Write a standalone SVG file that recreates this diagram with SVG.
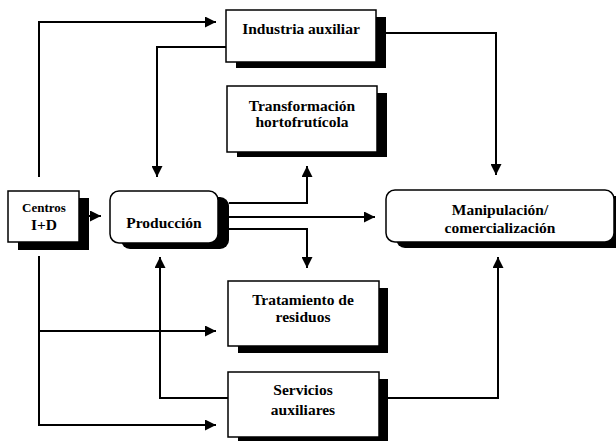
<svg xmlns="http://www.w3.org/2000/svg" width="616" height="441" viewBox="0 0 616 441">
<defs>
<marker id="ah" markerWidth="11" markerHeight="11" refX="11" refY="5.5" orient="auto" markerUnits="userSpaceOnUse">
<path d="M0,0 L11,5.5 L0,11 Z" fill="#000"/>
</marker>
<style>
.box{fill:#fff;stroke:#000;stroke-width:1.5}
.sh{fill:#000}
.t{font-family:"Liberation Serif","Times New Roman",serif;font-weight:bold;font-size:15.5px;text-anchor:middle;fill:#000}
.s{font-size:13px}
.c{fill:none;stroke:#000;stroke-width:2}
</style>
</defs>
<rect width="616" height="441" fill="#fff"/>
<g id="connectors">
<polyline class="c" points="39,177 39,22 216,22" marker-end="url(#ah)"/>
<polyline class="c" points="226,47 157,47 157,177" marker-end="url(#ah)"/>
<polyline class="c" points="386,33 496,33 496,175" marker-end="url(#ah)"/>
<polyline class="c" points="229,203 307,203 307,166" marker-end="url(#ah)"/>
<polyline class="c" points="229,217 375,217" marker-end="url(#ah)"/>
<polyline class="c" points="229,229 307,229 307,268" marker-end="url(#ah)"/>
<polyline class="c" points="89,216 101,216" marker-end="url(#ah)"/>
<polyline class="c" points="39,256 39,425 216,425" marker-end="url(#ah)"/>
<polyline class="c" points="39,331 216,331" marker-end="url(#ah)"/>
<polyline class="c" points="228,398 160,398 160,257" marker-end="url(#ah)"/>
<polyline class="c" points="388,398 498,398 498,257" marker-end="url(#ah)"/>
</g>
<g id="industria">
<rect class="sh" x="236" y="17" width="150" height="51"/>
<rect class="box" x="226" y="10" width="150" height="52"/>
<text class="t" x="301" y="34">Industria auxiliar</text>
</g>
<g id="transformacion">
<rect class="sh" x="237" y="93" width="150" height="64"/>
<rect class="box" x="227" y="86" width="150" height="66"/>
<text class="t" x="302" y="111">Transformación</text>
<text class="t" x="302" y="127">hortofrutícola</text>
</g>
<g id="centros">
<rect class="sh" x="18" y="198" width="71" height="52"/>
<rect class="box" x="8" y="191" width="71" height="51"/>
<text class="t s" x="44" y="212">Centros</text>
<text class="t" x="44" y="230">I+D</text>
</g>
<g id="produccion">
<rect class="sh" x="121" y="197" width="108" height="52" rx="9"/>
<rect class="box" x="110" y="191" width="108" height="52" rx="9"/>
<text class="t" x="164" y="228">Producción</text>
</g>
<g id="manipulacion">
<rect class="sh" x="396" y="196" width="230" height="52" rx="9"/>
<rect class="box" x="386" y="190" width="228" height="52" rx="9"/>
<text class="t" x="500" y="215">Manipulación/</text>
<text class="t" x="500" y="233">comercialización</text>
</g>
<g id="tratamiento">
<rect class="sh" x="238" y="288" width="150" height="65"/>
<rect class="box" x="228" y="281" width="151" height="65"/>
<text class="t" x="303" y="305">Tratamiento de</text>
<text class="t" x="303" y="322">residuos</text>
</g>
<g id="servicios">
<rect class="sh" x="238" y="379" width="150" height="65"/>
<rect class="box" x="228" y="372" width="151" height="65"/>
<text class="t" x="303" y="395">Servicios</text>
<text class="t" x="303" y="415">auxiliares</text>
</g>
</svg>
